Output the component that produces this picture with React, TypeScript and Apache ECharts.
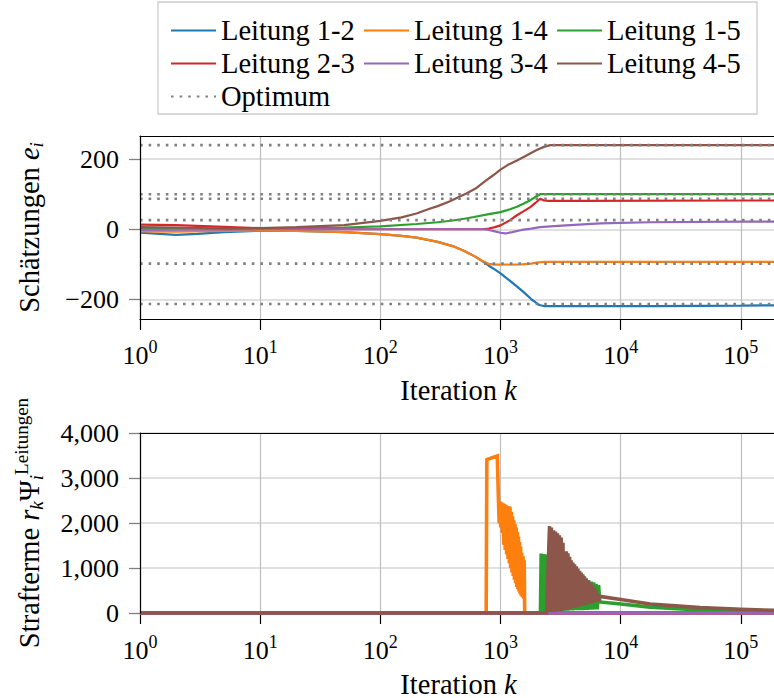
import React, { useEffect, useRef } from 'react';
import * as echarts from 'echarts';

const FONT = 'Liberation Serif, serif';

// ---------- labels / categories ----------
const SERIES_NAMES = ['Leitung 1-2', 'Leitung 1-4', 'Leitung 1-5', 'Leitung 2-3', 'Leitung 3-4', 'Leitung 4-5'];
const OPTIMUM_NAME = 'Optimum';
const COLORS = ['#1f77b4', '#ff7f0e', '#2ca02c', '#d62728', '#9467bd', '#8c564b'];
const OPT_COLOR = '#808080';

// ---------- axes ----------
const K_MIN = 1;
const K_MAX = 200000;
const EST_MIN = -256;
const EST_MAX = 266;
const EST_TICKS = [-200, 0, 200];
const PEN_MIN = 0;
const PEN_MAX = 4000;
const PEN_TICKS = [0, 1000, 2000, 3000, 4000];

// ---------- optimum values (per line, same order as SERIES_NAMES) ----------
const OPTIMUM_VALUES = [-213, -98, 100, 87, 26, 240];

// ---------- estimates e_i over iteration k ----------
const est12: number[][] = [[1, -10], [2, -16], [3, -13], [5, -8], [10, -4], [20, -5], [50, -8], [100, -14], [150, -19], [200, -24], [300, -36], [400, -48], [500, -62], [600, -76], [700, -90], [800, -104], [900, -115], [1000, -126], [1200, -147], [1400, -166], [1600, -183], [1800, -199], [2000, -211], [2100, -216], [2300, -219], [2600, -219], [5000, -219], [20000, -219], [100000, -218], [200000, -217]];
const est14: number[][] = [[1, -6], [2, -7], [5, -5], [10, -4], [20, -5], [50, -8], [100, -14], [150, -19], [200, -24], [300, -36], [400, -48], [500, -62], [600, -76], [700, -90], [800, -99], [900, -101], [1000, -101], [1500, -100], [1800, -98], [2000, -95], [2300, -93], [5000, -93], [200000, -93]];
const est15: number[][] = [[1, 3], [2, 3], [5, 1], [10, 1], [20, 3], [50, 5], [100, 8], [200, 15], [300, 20], [400, 25], [500, 30], [600, 35], [800, 43], [1000, 49], [1200, 57], [1370, 64], [1550, 73], [1770, 83], [1950, 92], [2140, 100], [2400, 100], [10000, 100], [200000, 100]];
const est23: number[][] = [[1, 13], [2, 12], [5, 7], [10, 3], [20, 1], [50, 0], [100, 0], [300, 0], [700, 0], [800, 2], [900, 6], [1000, 11], [1200, 26], [1370, 40], [1550, 51], [1770, 63], [1950, 75], [2140, 87], [2300, 82], [2500, 81], [5000, 81], [100000, 82], [200000, 82]];
const est34: number[][] = [[1, -2], [3, -1], [10, 0], [100, 0], [700, 0], [800, -2], [900, -6], [1000, -10], [1100, -12], [1250, -8], [1500, -2], [1800, 2], [2140, 6], [2800, 9], [3800, 12], [6800, 17], [17600, 20], [100000, 22], [200000, 22]];
const est45: number[][] = [[1, 6], [2, 5], [5, 2], [10, 3], [20, 6], [50, 12], [100, 24], [150, 34], [200, 45], [250, 57], [300, 66], [380, 80], [450, 92], [520, 102], [620, 116], [750, 138], [870, 154], [1000, 170], [1170, 185], [1370, 196], [1600, 208], [2000, 226], [2300, 235], [2600, 240], [10000, 240], [200000, 240]];

// ---------- penalty terms r_k Psi_i over iteration k ----------
const pen12: number[][] = [[1, 0], [200000, 0]];
const pen14: number[][] = [[1, 0], [760, 0], [770, 3410], [940, 3490], [962, 2500], [975, 1990], [990, 2480], [1005, 1900], [1020, 2460], [1035, 1780], [1050, 2440], [1065, 1520], [1080, 2420], [1095, 1400], [1110, 2400], [1125, 1300], [1140, 2380], [1155, 1200], [1170, 2370], [1185, 1100], [1200, 2360], [1215, 1000], [1230, 2250], [1245, 900], [1260, 2150], [1275, 820], [1290, 2060], [1305, 740], [1320, 1980], [1335, 660], [1350, 1900], [1365, 580], [1380, 1800], [1395, 530], [1410, 1700], [1425, 480], [1440, 1580], [1455, 430], [1470, 1480], [1485, 390], [1500, 1340], [1520, 350], [1540, 1260], [1560, 320], [1575, 1170], [1590, 0], [200000, 0]];
const pen15: number[][] = [[1, 0], [2150, 0], [2180, 1320], [2230, 30], [2290, 1310], [2340, 30], [2400, 1300], [2460, 30], [2520, 1295], [2580, 35], [2640, 1290], [2700, 35], [2770, 1285], [2840, 40], [2900, 1275], [2980, 40], [3050, 1265], [3120, 45], [3200, 1255], [3270, 45], [3350, 1250], [3430, 50], [3520, 1230], [3600, 50], [3690, 1180], [3780, 55], [3870, 1110], [3960, 55], [4060, 1040], [4160, 60], [4260, 980], [4360, 60], [4470, 920], [4570, 65], [4680, 870], [4800, 65], [4910, 820], [5030, 70], [5160, 770], [5280, 70], [5410, 730], [5540, 75], [5670, 700], [5810, 75], [5950, 680], [6090, 80], [6240, 650], [6390, 80], [6550, 620], [6700, 245], [10000, 200], [17600, 130], [46000, 70], [100000, 45], [200000, 30]];
const pen23: number[][] = [[1, 0], [200000, 0]];
const pen34: number[][] = [[1, 0], [200000, 0]];
const pen45: number[][] = [[1, 0], [2420, 0], [2560, 1930], [2600, 20], [2650, 1900], [2700, 20], [2760, 1840], [2810, 30], [2870, 1810], [2920, 30], [2980, 1770], [3030, 40], [3090, 1730], [3140, 40], [3200, 1680], [3250, 50], [3310, 1560], [3350, 60], [3400, 1200], [3450, 60], [3530, 1370], [3580, 70], [3640, 1330], [3690, 80], [3760, 1250], [3810, 90], [3870, 1170], [3930, 100], [4000, 1120], [4060, 110], [4130, 1080], [4200, 120], [4270, 1040], [4330, 130], [4400, 990], [4470, 140], [4540, 940], [4610, 150], [4680, 900], [4760, 160], [4840, 860], [4920, 170], [5000, 810], [5080, 180], [5160, 760], [5240, 190], [5320, 720], [5410, 200], [5500, 680], [5590, 210], [5680, 640], [5770, 220], [5860, 600], [5950, 230], [6050, 560], [6150, 240], [6250, 510], [6350, 250], [6450, 430], [6550, 260], [6700, 370], [10000, 300], [17600, 200], [46000, 120], [100000, 85], [200000, 55]];

const EST_DATA = [est12, est14, est15, est23, est34, est45];
const PEN_DATA = [pen12, pen14, pen15, pen23, pen34, pen45];

const minus = (v: number) => (v < 0 ? '\u2212' + Math.abs(v) : String(v));

function logLabel(v: number) {
  const l = Math.log10(v);
  const e = Math.round(l);
  if (Math.abs(l - e) > 1e-6) return '';
  return `{b|10}{s|${e}}`;
}

const NAME_SIZE = 28.5;
const SMALL_SIZE = 19;

const textRich: any = {
  b: { fontFamily: FONT, fontSize: 26, lineHeight: 34, color: '#000' },
  t: { fontFamily: FONT, fontSize: 26, lineHeight: 30, color: '#000' },
  lg: { fontFamily: FONT, fontSize: 28.5, lineHeight: 28, color: '#000' },
  s: { fontFamily: FONT, fontSize: 18, lineHeight: 18, verticalAlign: 'top', color: '#000' },
  it: { fontFamily: FONT, fontSize: NAME_SIZE, lineHeight: 34, fontStyle: 'italic', color: '#000' },
  n: { fontFamily: FONT, fontSize: NAME_SIZE, lineHeight: 34, color: '#000' },
  xit: { fontFamily: FONT, fontSize: NAME_SIZE, lineHeight: 28, fontStyle: 'italic', color: '#000' },
  xn: { fontFamily: FONT, fontSize: NAME_SIZE, lineHeight: 28, color: '#000' },
  sub: { fontFamily: FONT, fontSize: SMALL_SIZE, lineHeight: 18, verticalAlign: 'bottom', fontStyle: 'italic', color: '#000' },
  sup: { fontFamily: FONT, fontSize: SMALL_SIZE, lineHeight: 18, verticalAlign: 'top', color: '#000' },
};

function buildOption() {
  const nameStyle = { fontFamily: FONT, fontSize: NAME_SIZE, lineHeight: 34, color: '#000', rich: textRich };
  const xNameStyle = { fontFamily: FONT, fontSize: NAME_SIZE, lineHeight: 28, color: '#000', rich: textRich };

  const mainX = (gridIndex: number, gap: number, labelMargin: number) => ({
    gridIndex,
    type: 'log',
    logBase: 10,
    min: K_MIN,
    max: K_MAX,
    position: 'bottom',
    name: '{xn|Iteration }{xit|k}',
    nameLocation: 'middle',
    nameGap: gap,
    nameTextStyle: xNameStyle,
    axisLine: { show: true, onZero: false, lineStyle: { color: '#000', width: 1.2 } },
    axisTick: { show: true, inside: false, length: 11, lineStyle: { color: '#000', width: 1.2 } },
    minorTick: { show: false },
    axisLabel: { margin: labelMargin, formatter: logLabel, rich: textRich },
    splitLine: { show: true, lineStyle: { color: '#bdbdbd', width: 1.2 } },
    z: 0,
  });
  const borderX = (gridIndex: number) => ({
    gridIndex,
    type: 'log',
    logBase: 10,
    min: K_MIN,
    max: K_MAX,
    position: 'top',
    axisLine: { show: true, onZero: false, lineStyle: { color: '#000', width: 1.2 } },
    axisTick: { show: false },
    axisLabel: { show: false },
    splitLine: { show: false },
    z: 5,
  });
  const borderY = (gridIndex: number, min: number, max: number) => ({
    gridIndex,
    type: 'value',
    min,
    max,
    position: 'left',
    axisLine: { show: true, onZero: false, lineStyle: { color: '#000', width: 1.2 } },
    axisTick: { show: false },
    axisLabel: { show: false },
    splitLine: { show: false },
    z: 5,
  });

  const series: any[] = [];
  EST_DATA.forEach((data, i) => {
    series.push({
      name: SERIES_NAMES[i],
      type: 'line',
      xAxisIndex: 0,
      yAxisIndex: 0,
      data,
      symbol: 'none',
      lineStyle: { color: COLORS[i], width: 2.2 },
      itemStyle: { color: COLORS[i] },
      emphasis: { disabled: true },
      silent: true,
    });
  });
  OPTIMUM_VALUES.forEach((v) => {
    series.push({
      name: OPTIMUM_NAME,
      type: 'line',
      xAxisIndex: 0,
      yAxisIndex: 0,
      data: [[K_MIN, v], [K_MAX, v]],
      symbol: 'none',
      lineStyle: { color: OPT_COLOR, width: 2.6, type: [2.6, 6] },
      itemStyle: { color: OPT_COLOR },
      emphasis: { disabled: true },
      silent: true,
    });
  });
  PEN_DATA.forEach((data, i) => {
    series.push({
      name: SERIES_NAMES[i],
      type: 'line',
      xAxisIndex: 2,
      yAxisIndex: 2,
      data,
      symbol: 'none',
      lineStyle: { color: COLORS[i], width: 3.6, join: 'miter' },
      itemStyle: { color: COLORS[i] },
      emphasis: { disabled: true },
      silent: true,
    });
  });

  return {
    animation: false,
    backgroundColor: '#fff',
    textStyle: { fontFamily: FONT },
    legend: {
      data: [...SERIES_NAMES, OPTIMUM_NAME],
      left: 158,
      top: 2,
      width: 590,
      orient: 'horizontal',
      itemWidth: 45,
      itemHeight: 14,
      itemGap: 4,
      padding: [14, 12, 3, 12],
      borderColor: '#cccccc',
      borderWidth: 1.3,
      borderRadius: 0,
      backgroundColor: '#fff',
      selectedMode: false,
      itemStyle: { opacity: 0 },
      formatter: (name: string) => `{lg|${name}}`,
      textStyle: { fontFamily: FONT, fontSize: 28.5, lineHeight: 28, color: '#000', width: 138, rich: textRich },
    },
    grid: [
      { left: 140, top: 136, width: 637, height: 183, outerBoundsMode: 'none', containLabel: false },
      { left: 140, top: 433, width: 637, height: 180, outerBoundsMode: 'none', containLabel: false },
    ],
    xAxis: [mainX(0, 57, 19), borderX(0), mainX(1, 57, 20), borderX(1)],
    yAxis: [
      {
        gridIndex: 0,
        type: 'value',
        min: EST_MIN,
        max: EST_MAX,
        splitNumber: 3,
        position: 'left',
        name: '{n|Schätzungen }{it|e}{sub|i}',
        nameLocation: 'middle',
        nameRotate: 90,
        nameGap: 94,
        nameTextStyle: nameStyle,
        axisLine: { show: false, onZero: false },
        axisTick: { show: true, inside: false, length: 11, customValues: EST_TICKS, lineStyle: { color: '#7f7f7f', width: 1.3 } },
        axisLabel: { customValues: EST_TICKS, margin: 21, formatter: (v: number) => `{t|${minus(v)}}`, rich: textRich },
        splitLine: { show: true, lineStyle: { color: '#d6d6d6', width: 1.5 } },
      },
      borderY(0, EST_MIN, EST_MAX),
      {
        gridIndex: 1,
        type: 'value',
        min: PEN_MIN,
        max: PEN_MAX,
        interval: 1000,
        position: 'left',
        name: '{n|Strafterme }{it|r}{sub|k}{n|Ψ}{sub|i}{sup|Leitungen}',
        nameLocation: 'middle',
        nameRotate: 90,
        nameGap: 94,
        nameTextStyle: nameStyle,
        axisLine: { show: false, onZero: false },
        axisTick: { show: true, inside: false, length: 11, customValues: PEN_TICKS, lineStyle: { color: '#7f7f7f', width: 1.3 } },
        axisLabel: {
          customValues: PEN_TICKS,
          margin: 21,
          formatter: (v: number) => `{t|${v.toLocaleString('en-US')}}`,
          rich: textRich,
        },
        splitLine: { show: true, lineStyle: { color: '#d6d6d6', width: 1.5 } },
      },
      borderY(1, PEN_MIN, PEN_MAX),
    ],
    series,
  };
}

export default function App() {
  const ref = useRef<HTMLDivElement>(null);
  useEffect(() => {
    if (!ref.current) return;
    const chart = echarts.init(ref.current, undefined, { renderer: 'svg' });
    chart.setOption(buildOption() as any);
    return () => chart.dispose();
  }, []);
  return (
    <div
      ref={ref}
      style={{ position: 'absolute', left: 0, top: 0, width: 774, height: 698, background: '#fff' }}
    />
  );
}
